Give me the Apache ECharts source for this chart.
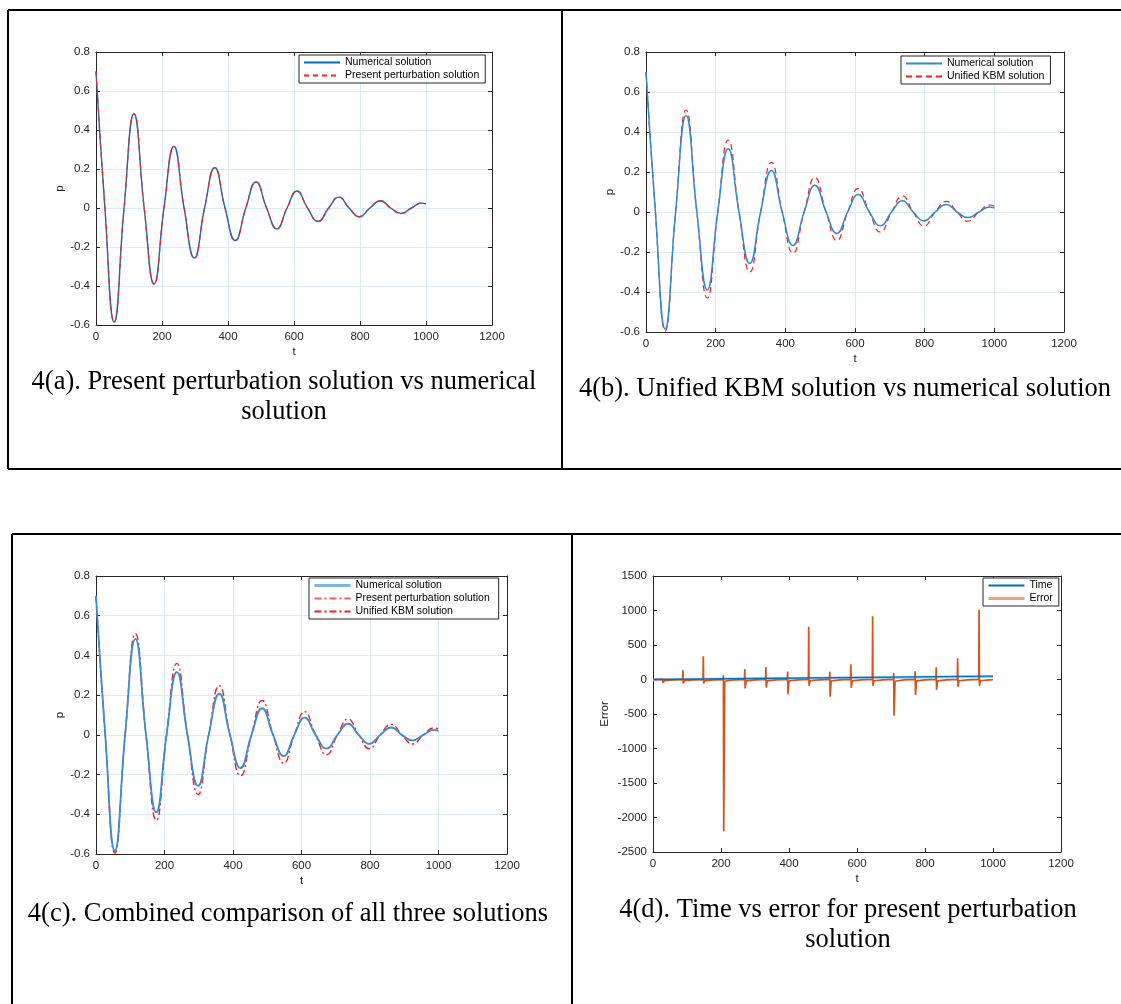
<!DOCTYPE html>
<html>
<head>
<meta charset="utf-8">
<script src="https://cdn.jsdelivr.net/npm/echarts@6.0.0/dist/echarts.min.js"></script>
<style>
html, body { margin: 0; padding: 0; background: #fff; }
#fig { width: 1121px; height: 1004px; }
</style>
</head>
<body>
<div id="fig"></div>
<script>
// time samples: extrema and zero crossings
const numT = [0, 27, 55, 85, 115, 146, 176, 206, 236, 267, 298, 329, 360, 391, 422, 454, 485, 517,
  548, 579, 609, 641, 673, 705, 736, 767, 798, 830, 862, 893, 924, 956, 987, 1000];
const numP = [0.70, 0, -0.585, 0, 0.483, 0, -0.390, 0, 0.316, 0, -0.257, 0, 0.207, 0, -0.167, 0, 0.134, 0,
  -0.107, 0, 0.087, 0, -0.069, 0, 0.056, 0, -0.045, 0, 0.037, 0, -0.028, 0, 0.025, 0.020];
const presP = [0.70, 0, -0.585, 0, 0.483, 0, -0.390, 0, 0.316, 0, -0.257, 0, 0.207, 0, -0.167, 0, 0.134, 0,
  -0.107, 0, 0.087, 0, -0.069, 0, 0.056, 0, -0.045, 0, 0.037, 0, -0.028, 0, 0.025, 0.020];
const kbmP = [0.70, 0, -0.595, 0, 0.510, 0, -0.430, 0, 0.360, 0, -0.300, 0, 0.248, 0, -0.206, 0, 0.173, 0,
  -0.143, 0, 0.117, 0, -0.100, 0, 0.080, 0, -0.070, 0, 0.053, 0, -0.046, 0, 0.035, 0.030];

// panel (d)
const timeT = [0, 1000];
const timeV = [0, 50];
const timeShadeV = [-4, 44];
const errData = [
  [0, 0],
  [28, 2], [29, 20], [30, -50], [33, -15], [58, -5],
  [87, 2], [88, 135], [89, -58], [92, -18], [118, -6],
  [147, 2], [148, 335], [149, -58], [152, -20], [178, -6],
  [206, 2], [207, 63], [208, -2200], [211, -25], [238, -6],
  [269, 2], [270, 150], [271, -130], [274, -20], [300, -6],
  [331, 2], [332, 180], [333, -116], [336, -20], [362, -6],
  [395, 2], [396, 116], [397, -212], [400, -22], [426, -6],
  [457, 2], [458, 766], [459, -92], [462, -18], [488, -6],
  [519, 2], [520, 111], [521, -250], [524, -22], [550, -6],
  [581, 2], [582, 222], [583, -120], [586, -20], [612, -6],
  [645, 2], [646, 916], [647, -92], [650, -18], [676, -6],
  [707, 2], [708, 92], [709, -525], [712, -25], [738, -6],
  [770, 2], [771, 120], [772, -222], [775, -20], [801, -6],
  [832, 2], [833, 178], [834, -150], [837, -20], [863, -6],
  [895, 2], [896, 308], [897, -106], [900, -18], [926, -6],
  [958, 2], [959, 1012], [960, -92], [963, -18], [989, -6],
  [1000, -2]
];

const captions = [
  '4(a). Present perturbation solution vs numerical\nsolution',
  '4(b). Unified KBM solution vs numerical solution',
  '4(c). Combined comparison of all three solutions',
  '4(d). Time vs error for present perturbation\nsolution'
];

const sans = '"Liberation Sans", Arial, sans-serif';
const serif = '"Liberation Serif", "Times New Roman", serif';
const axisColor = '#262626';
const gridColor = '#DCEBF8';

const zip = (a, b) => a.map((v, i) => [v, b[i]]);
const fmt = v => String(+v.toFixed(4));

const grids = [
  { left: 96, top: 52, width: 396, height: 273 },
  { left: 646, top: 52, width: 418, height: 280 },
  { left: 96, top: 576, width: 411, height: 278 },
  { left: 653, top: 576, width: 408, height: 276 }
];

const xAxes = [];
const yAxes = [];
function addAxes(gi, yr, yName, yGap, showGrid) {
  const line = { show: true, onZero: false, lineStyle: { color: axisColor, width: 1 } };
  const tick = { show: true, inside: true, length: 4, lineStyle: { color: axisColor } };
  const label = { color: axisColor, fontSize: 11.5, fontFamily: sans, margin: 6, formatter: fmt };
  xAxes.push({
    type: 'value', gridIndex: gi, position: 'bottom', min: 0, max: 1200, interval: 200,
    name: 't', nameLocation: 'middle', nameGap: 21,
    nameTextStyle: { color: axisColor, fontSize: 11.5, fontFamily: sans },
    axisLine: line, axisTick: tick, axisLabel: label,
    splitLine: { show: showGrid, lineStyle: { color: gridColor } }
  });
  xAxes.push({
    type: 'value', gridIndex: gi, position: 'top', min: 0, max: 1200, interval: 200,
    axisLine: line, axisTick: tick, axisLabel: { show: false }, splitLine: { show: false }
  });
  yAxes.push({
    type: 'value', gridIndex: gi, position: 'left', min: yr[0], max: yr[1], interval: yr[2],
    name: yName, nameLocation: 'middle', nameGap: yGap,
    nameTextStyle: { color: axisColor, fontSize: 11.5, fontFamily: sans },
    axisLine: line, axisTick: tick, axisLabel: label,
    splitLine: { show: showGrid, lineStyle: { color: gridColor } }
  });
  yAxes.push({
    type: 'value', gridIndex: gi, position: 'right', min: yr[0], max: yr[1], interval: yr[2],
    axisLine: line, axisTick: tick, axisLabel: { show: false }, splitLine: { show: false }
  });
}
addAxes(0, [-0.6, 0.8, 0.2], 'p', 30, true);
addAxes(1, [-0.6, 0.8, 0.2], 'p', 30, true);
addAxes(2, [-0.6, 0.8, 0.2], 'p', 30, true);
addAxes(3, [-2500, 1500, 500], 'Error', 42, false);

function line(name, gi, data, color, width, type, z, smooth) {
  return {
    name: name, type: 'line', xAxisIndex: gi * 2, yAxisIndex: gi * 2, data: data,
    symbol: 'none', smooth: smooth === undefined ? 0.5 : smooth, z: z || 2,
    lineStyle: { color: color, width: width, type: type || 'solid' },
    itemStyle: { color: color }, emphasis: { disabled: true }
  };
}

const dashDot = [7, 3, 2, 3];
const series = [
  line('Numerical solution', 0, zip(numT, numP), '#0072BD', 1.4),
  line('Present perturbation solution', 0, zip(numT, presP), '#FF2020', 1.2, [5, 4], 3),

  line('Numerical solution ', 1, zip(numT, numP), '#2F8AD6', 1.5, 'solid', 3),
  line('Unified KBM solution', 1, zip(numT, kbmP), '#FF1A1A', 1.2, [6, 4], 2),

  line('Numerical solution  ', 2, zip(numT, numP), '#3D8DD4', 1.8, 'solid', 4),
  line('Present perturbation solution ', 2, zip(numT, presP), '#FF5A5A', 0.8, dashDot, 3),
  line('Unified KBM solution ', 2, zip(numT, kbmP), '#FF1A1A', 1.4, dashDot, 2),

  line('time shade', 3, zip(timeT, timeShadeV), '#A9D0F0', 3, 'solid', 1, false),
  line('Time', 3, zip(timeT, timeV), '#0072BD', 1.3, 'solid', 3, false),
  line('Error', 3, errData, '#D95319', 1.7, 'solid', 2, false)
];

function legend(left, top, items) {
  return {
    left: left, top: top, orient: 'vertical', align: 'left',
    itemWidth: 36, itemHeight: 10, itemGap: 2, padding: [2, 6, 2, 4],
    borderColor: axisColor, borderWidth: 1, backgroundColor: '#fff',
    selectedMode: false,
    itemStyle: { opacity: 0 },
    textStyle: { fontSize: 10.5, color: '#000', fontFamily: sans },
    data: items
  };
}

const legends = [
  legend(299, 55, ['Numerical solution', 'Present perturbation solution']),
  legend(901, 56, ['Numerical solution ', 'Unified KBM solution']),
  legend(309, 578, [
    { name: 'Numerical solution  ', lineStyle: { color: '#7DB4E4', width: 3 } },
    'Present perturbation solution ',
    'Unified KBM solution '
  ]),
  legend(983, 578, [
    'Time',
    { name: 'Error', lineStyle: { color: '#F0A07C', width: 3 } }
  ])
];

// caption anchor: centre x, top of first line
const capPos = [[284, 367], [845, 374], [288, 899], [848, 895]];
const graphics = [];
captions.forEach((txt, i) => {
  graphics.push({
    type: 'text', x: capPos[i][0], y: capPos[i][1],
    style: {
      text: txt, fill: '#000', font: '26.5px ' + serif, lineHeight: 30,
      align: 'center', verticalAlign: 'top', textAlign: 'center', textVerticalAlign: 'top'
    }
  });
});
// table borders
[
  [8, 10, 1121, 10], [8, 10, 8, 469], [8, 469, 1121, 469], [562, 10, 562, 469],
  [12, 534, 1121, 534], [12, 534, 12, 1004], [572, 534, 572, 1004]
].forEach(s => {
  graphics.push({
    type: 'line', shape: { x1: s[0], y1: s[1], x2: s[2], y2: s[3] },
    style: { stroke: '#000', lineWidth: 2 }
  });
});

const chart = echarts.init(document.getElementById('fig'));
chart.setOption({
  animation: false,
  backgroundColor: '#fff',
  grid: grids.map(g => Object.assign({ show: false }, g)),
  xAxis: xAxes,
  yAxis: yAxes,
  legend: legends,
  series: series,
  graphic: graphics
});
</script>
</body>
</html>
